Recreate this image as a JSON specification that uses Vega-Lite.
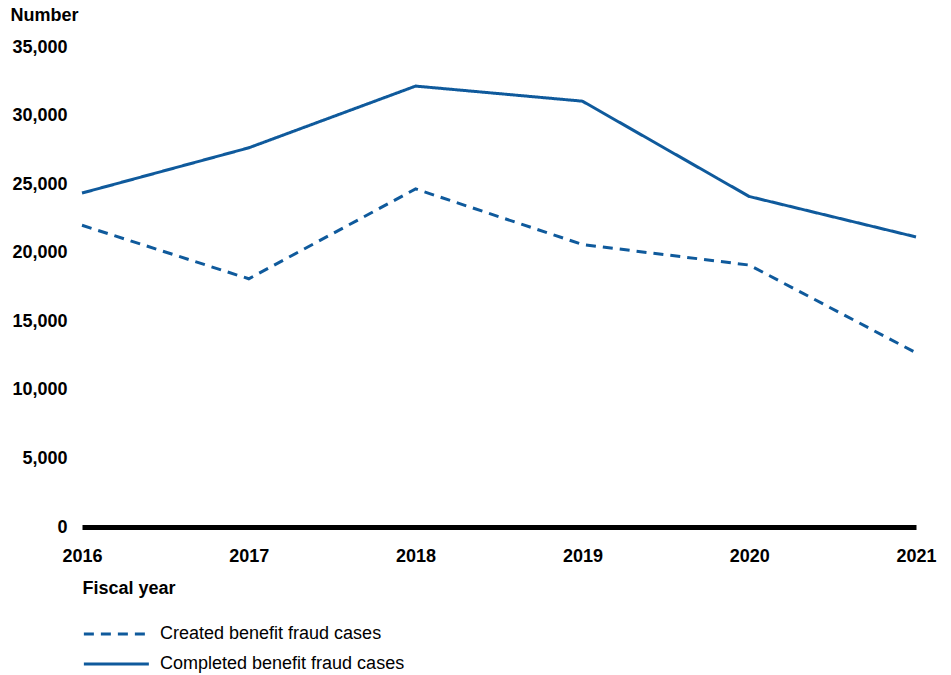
{
  "$schema": "https://vega.github.io/schema/vega-lite/v6.json",
  "width": 834,
  "height": 480,
  "autosize": {"type": "none"},
  "padding": {"left": 82, "top": 47, "right": 35, "bottom": 148},
  "background": "white",
  "config": {
    "font": "Liberation Sans",
    "view": {"stroke": null}
  },
  "data": {
    "values": [
      {"year": 2016, "series": "Created benefit fraud cases", "value": 22000},
      {"year": 2017, "series": "Created benefit fraud cases", "value": 18100},
      {"year": 2018, "series": "Created benefit fraud cases", "value": 24650},
      {"year": 2019, "series": "Created benefit fraud cases", "value": 20600},
      {"year": 2020, "series": "Created benefit fraud cases", "value": 19100},
      {"year": 2021, "series": "Created benefit fraud cases", "value": 12700},
      {"year": 2016, "series": "Completed benefit fraud cases", "value": 24350},
      {"year": 2017, "series": "Completed benefit fraud cases", "value": 27650},
      {"year": 2018, "series": "Completed benefit fraud cases", "value": 32150},
      {"year": 2019, "series": "Completed benefit fraud cases", "value": 31050},
      {"year": 2020, "series": "Completed benefit fraud cases", "value": 24100},
      {"year": 2021, "series": "Completed benefit fraud cases", "value": 21150}
    ]
  },
  "mark": {"type": "line", "strokeWidth": 3},
  "encoding": {
    "x": {
      "field": "year",
      "type": "quantitative",
      "scale": {"domain": [2016, 2021], "nice": false, "zero": false},
      "axis": {
        "title": "Fiscal year",
        "values": [2016, 2017, 2018, 2019, 2020, 2021],
        "format": "d",
        "grid": false,
        "ticks": false,
        "domain": true,
        "domainColor": "black",
        "domainWidth": 5,
        "labelFont": "Liberation Sans",
        "labelFontWeight": "bold",
        "labelFontSize": 18,
        "labelColor": "black",
        "labelPadding": 20,
        "labelFlush": false,
        "titleFont": "Liberation Sans",
        "titleFontWeight": "bold",
        "titleFontSize": 18,
        "titleColor": "black",
        "titleAnchor": "start",
        "titleAlign": "left",
        "titleBaseline": "middle",
        "titleX": 0,
        "titleY": 61
      }
    },
    "y": {
      "field": "value",
      "type": "quantitative",
      "scale": {"domain": [0, 35000], "nice": false},
      "axis": {
        "title": "Number",
        "values": [0, 5000, 10000, 15000, 20000, 25000, 30000, 35000],
        "format": ",d",
        "grid": false,
        "ticks": false,
        "domain": false,
        "labelFont": "Liberation Sans",
        "labelFontWeight": "bold",
        "labelFontSize": 18,
        "labelColor": "black",
        "labelPadding": 15,
        "titleFont": "Liberation Sans",
        "titleFontWeight": "bold",
        "titleFontSize": 18,
        "titleColor": "black",
        "titleAngle": 0,
        "titleAnchor": "start",
        "titleAlign": "left",
        "titleBaseline": "middle",
        "titleX": -72,
        "titleY": -32
      }
    },
    "color": {
      "field": "series",
      "type": "nominal",
      "scale": {
        "domain": ["Created benefit fraud cases", "Completed benefit fraud cases"],
        "range": ["#0f5a9c", "#0f5a9c"]
      },
      "legend": {
        "title": null,
        "orient": "none",
        "legendX": 0,
        "legendY": 577,
        "symbolType": "M-1,0H7",
        "symbolSize": 264,
        "symbolStrokeWidth": 3,
        "labelFont": "Liberation Sans",
        "labelFontSize": 18,
        "labelColor": "black",
        "labelOffset": 58,
        "labelLimit": 400,
        "rowPadding": 11
      }
    },
    "strokeDash": {
      "field": "series",
      "type": "nominal",
      "scale": {
        "domain": ["Created benefit fraud cases", "Completed benefit fraud cases"],
        "range": [[10, 7], [1, 0]]
      },
      "legend": {
        "title": null,
        "orient": "none",
        "legendX": 0,
        "legendY": 577,
        "symbolType": "M-1,0H7",
        "symbolSize": 264,
        "symbolStrokeWidth": 3,
        "labelFont": "Liberation Sans",
        "labelFontSize": 18,
        "labelColor": "black",
        "labelOffset": 58,
        "labelLimit": 400,
        "rowPadding": 11
      }
    }
  }
}
